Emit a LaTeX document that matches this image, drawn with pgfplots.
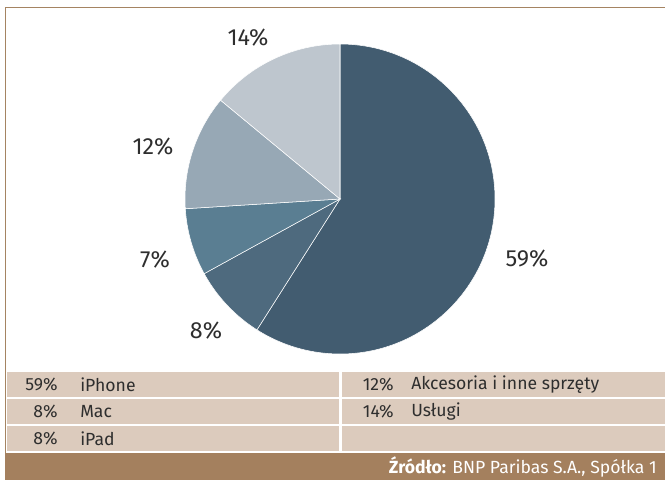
\documentclass[border=0pt]{standalone}
\usepackage{pgfplots}
\usepackage{pgfplotstable}
\pgfplotsset{compat=1.18}
\usetikzlibrary{calc}
\usepackage{fontspec}
\setmainfont{Fira Sans}
\definecolor{c1}{HTML}{425C70}
\definecolor{c2}{HTML}{4E6A7E}
\definecolor{c3}{HTML}{5A7E92}
\definecolor{c4}{HTML}{97A8B5}
\definecolor{c5}{HTML}{BEC6CE}
\definecolor{frame}{HTML}{A58462}
\definecolor{foot}{HTML}{A4805E}
\definecolor{leg}{HTML}{DCCBBD}
\definecolor{txt}{HTML}{2E2E2E}
% value, colour, label position (px from left, px from bottom)
\pgfplotstableread{
name value col lx ly
iPhone 59 c1 527 221
Mac 8 c2 206 149
iPad 7 c3 155 220
Akcesoria 12 c4 153 333
Uslugi 14 c5 248 442
}\piedata
\begin{document}
\begin{tikzpicture}
\useasboundingbox (0,0) rectangle (498.75pt,360pt);
\begin{axis}[at={(0,0)},anchor=origin,x=0.75pt,y=0.75pt,
  xmin=0,xmax=665,ymin=0,ymax=480,hide axis,clip=false,
  scale only axis,width=498.75pt,height=360pt]
% frame and legend background
\fill[foot] (axis cs:5,0) rectangle (axis cs:665,27);
\fill[leg] (axis cs:7,29) rectangle (axis cs:665,54);
\fill[leg] (axis cs:7,56) rectangle (axis cs:665,81);
\fill[leg] (axis cs:7,83) rectangle (axis cs:665,108);
\fill[white] (axis cs:339,29) rectangle (axis cs:341.5,108);
\draw[frame,line width=1.2pt] (axis cs:5.5,27) -- (axis cs:5.5,472.5) -- (axis cs:665,472.5);
% pie
\def\cum{90}
\pgfplotsforeachungrouped \i in {0,...,4}{%
  \pgfplotstablegetelem{\i}{value}\of\piedata \let\v\pgfplotsretval
  \pgfplotstablegetelem{\i}{col}\of\piedata \let\c\pgfplotsretval
  \pgfplotstablegetelem{\i}{lx}\of\piedata \let\lx\pgfplotsretval
  \pgfplotstablegetelem{\i}{ly}\of\piedata \let\ly\pgfplotsretval
  \pgfmathsetmacro\endang{\cum-3.6*\v}%
  \edef\temp{\noexpand\fill[\c,draw=white,line width=0.4pt] (axis cs:340,281) -- ++(\cum:116.25pt) arc[start angle=\cum,end angle=\endang,radius=116.25pt] -- cycle;
  \noexpand\node[txt,font=\noexpand\fontsize{17.5}{20}\noexpand\selectfont] at (axis cs:\lx,\ly) {\v\noexpand\%};}%
  \temp
  \global\let\cum\endang
}
% legend table text
\begin{scope}[every node/.style={txt,font=\fontsize{13.2}{16}\selectfont,inner sep=0pt}]
\node[anchor=east] at (axis cs:58,95) {59\%};
\node[anchor=west] at (axis cs:80,95) {iPhone};
\node[anchor=east] at (axis cs:58,68.5) {8\%};
\node[anchor=west] at (axis cs:80,68.5) {Mac};
\node[anchor=east] at (axis cs:58,41.5) {8\%};
\node[anchor=west] at (axis cs:80,41.5) {iPad};
\node[anchor=east] at (axis cs:394,95) {12\%};
\node[anchor=west] at (axis cs:411,95) {Akcesoria i inne sprzęty};
\node[anchor=east] at (axis cs:394,68.5) {14\%};
\node[anchor=west] at (axis cs:411,68.5) {Usługi};
\end{scope}
\node[anchor=east,white,font=\fontsize{13.2}{16}\selectfont,inner sep=0pt] at (axis cs:657,13.5) {\textbf{Źródło:} BNP Paribas S.A., Spółka 1};
\end{axis}
\end{tikzpicture}
\end{document}
